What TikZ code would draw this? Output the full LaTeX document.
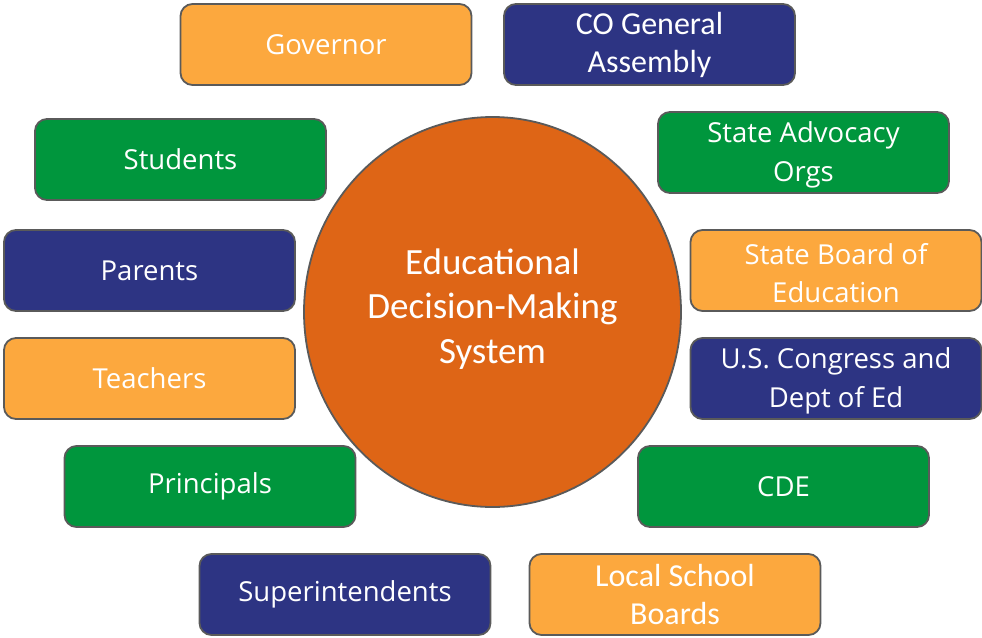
\documentclass[tikz,border=0pt]{standalone}
\usepackage{fontspec}
\usetikzlibrary{shapes.geometric}
\setmainfont{Carlito}
\newfontfamily\osans{Open Sans}
\definecolor{boxorange}{HTML}{FCA83E}
\definecolor{boxnavy}{HTML}{2D3483}
\definecolor{boxgreen}{HTML}{00963D}
\definecolor{hub}{HTML}{DE6516}
\definecolor{edge}{HTML}{5A5A5A}
\tikzset{
  actor/.style={draw=edge, line width=1.8pt, rounded corners=12pt,
    minimum width=291pt, minimum height=81pt, inner sep=0pt,
    text=white, align=center, font=\osans\fontsize{27.5}{38.5}\selectfont},
  cal/.style={font=\fontsize{32}{38}\selectfont},
  og/.style={actor, fill=boxorange},
  nv/.style={actor, fill=boxnavy},
  gr/.style={actor, fill=boxgreen},
  twotext/.style={text=white, align=center, font=\osans\fontsize{27.5}{38.5}\selectfont, yshift=-2.5pt},
}
\begin{document}
\begin{tikzpicture}[x=1pt,y=-1pt]
\useasboundingbox (0,0) rectangle (982,637);
\draw[edge, line width=1.8pt, fill=hub] (492.5,312) ellipse [x radius=188.5pt, y radius=195pt];
\node[text=white, align=center, font=\fontsize{37}{44.5}\selectfont] (hubnode) at (492.5,309)
  {Educational\\Decision-Making\\System};
\node[og] (gov) at (326,44.5) {Governor};
\node[nv,cal] (coga) at (649.5,44.5) {CO General\\Assembly};
\node[gr] (stu) at (180.5,159.5) {Students};
\node[gr] (sao) at (803.5,152.5) {};
\node[twotext] (saotext) at (sao.center) {State Advocacy\\Orgs};
\node[nv] (par) at (149.5,270.5) {Parents};
\node[og] (sbe) at (836,270.5) {};
\node[twotext] (sbetext) at (sbe.center) {State Board of\\Education};
\node[og] (tea) at (149.5,378.5) {Teachers};
\node[nv] (usc) at (836,378.5) {};
\node[twotext] (usctext) at (usc.center) {U.S. Congress and\\Dept of Ed};
\node[gr] (pri) at (210,486.5) {Principals};
\node[gr] (cde) at (783.5,486.5) {CDE};
\node[nv] (sup) at (345,594.5) {Superintendents};
\node[og,cal] (lsb) at (675,594.5) {Local School\\Boards};
\end{tikzpicture}
\end{document}
